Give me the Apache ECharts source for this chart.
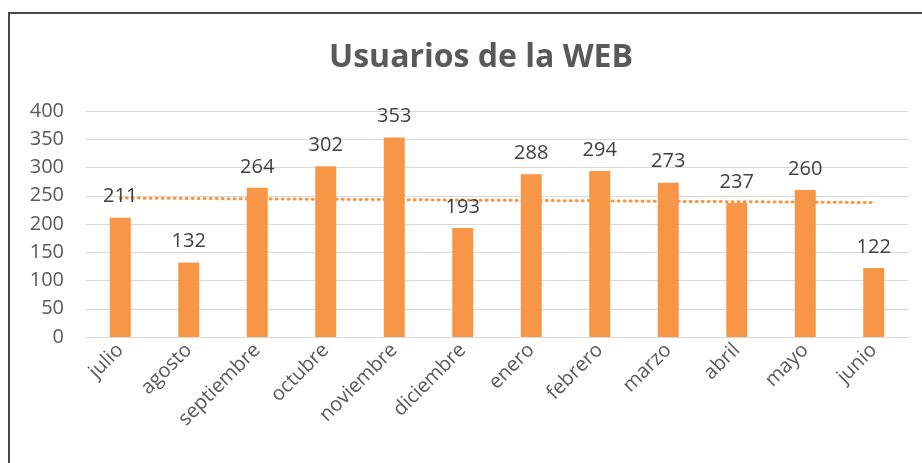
<!DOCTYPE html>
<html>
<head>
<meta charset="utf-8">
<script src="https://cdn.jsdelivr.net/npm/echarts@6/dist/echarts.min.js"></script>
<style>
  html, body { margin: 0; padding: 0; background: #fff; }
  #main { width: 922px; height: 463px; }
</style>
</head>
<body>
<div id="main"></div>
<script>
  // months (Jul -> Jun)
  var meses = ['julio', 'agosto', 'septiembre', 'octubre', 'noviembre', 'diciembre',
               'enero', 'febrero', 'marzo', 'abril', 'mayo', 'junio'];
  var usuarios = [211, 132, 264, 302, 353, 193, 288, 294, 273, 237, 260, 122];
  // trend line: start and end only
  var tendencia = [246, null, null, null, null, null, null, null, null, null, null, 238];

  var chart = echarts.init(document.getElementById('main'));
  chart.setOption({
    animation: false,
    textStyle: { fontFamily: '"Open Sans", "Liberation Sans", sans-serif' },
    title: {
      text: 'Usuarios de la WEB',
      left: 324,
      top: 37,
      textStyle: { fontSize: 32, fontWeight: 'bold', color: '#595959' }
    },
    graphic: [{
      type: 'rect',
      shape: { x: 9, y: 13, width: 1000, height: 600 },
      style: { fill: 'none', stroke: '#4a4a4a', lineWidth: 2 },
      silent: true
    }],
    grid: { left: 86, right: 14, top: 111, bottom: 126 },
    xAxis: {
      type: 'category',
      data: meses,
      axisLine: { lineStyle: { color: '#d9d9d9' } },
      axisTick: { show: false },
      axisLabel: { rotate: 45, fontSize: 20, color: '#595959', margin: 10, interval: 0 }
    },
    yAxis: {
      type: 'value',
      min: 0,
      max: 400,
      interval: 50,
      axisLine: { show: false },
      axisTick: { show: false },
      axisLabel: { fontSize: 20, color: '#595959', margin: 22 },
      splitLine: { lineStyle: { color: '#d9d9d9', width: 1 } }
    },
    series: [
      {
        type: 'bar',
        data: usuarios,
        barWidth: 21,
        itemStyle: { color: '#f79646' },
        label: { show: true, position: 'top', fontSize: 20, color: '#404040', distance: 11 },
        z: 2
      },
      {
        type: 'line',
        data: tendencia,
        connectNulls: true,
        symbol: 'none',
        lineStyle: { color: '#f79646', width: 3, type: [1, 5], cap: 'round' },
        z: 1
      }
    ]
  });
</script>
</body>
</html>
